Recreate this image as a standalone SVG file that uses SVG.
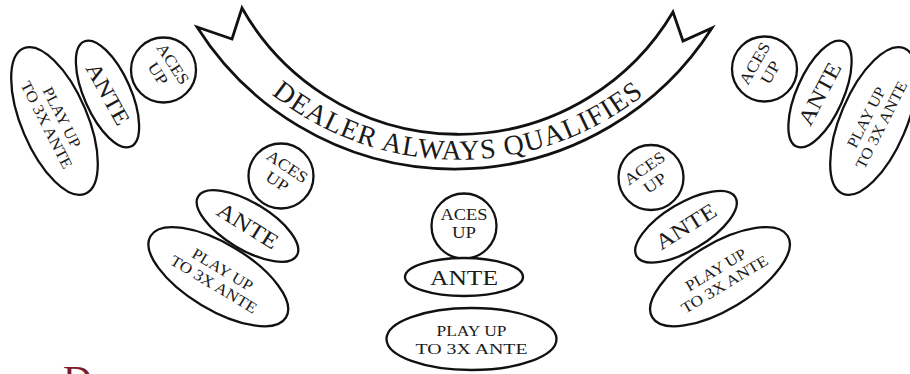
<svg xmlns="http://www.w3.org/2000/svg" width="910" height="374" viewBox="0 0 910 374">
<defs>
<style>
.sh{fill:#fff;stroke:#111;stroke-width:2.3}
.bn{fill:#fff;stroke:#111;stroke-width:2.8;stroke-linejoin:miter}
.t{font-family:"Liberation Serif","DejaVu Serif",serif;fill:#1a1a1a;text-anchor:middle}
.a{font-size:16px}
.n{font-size:22px}
.p{font-size:15.5px}
.b{font-size:28px;letter-spacing:1px}
</style>
<path id="arcText" d="M230,53.6 A298,298 0 0,0 686,53.6"/>
</defs>
<rect x="0" y="0" width="910" height="374" fill="#fff"/>

<g id="banner">
<path class="bn" d="M197,27 L232,39 L242,8 A249,249 0 0,0 673,12 L683,41 L712,28 A305,305 0 0,1 197,27 Z"/>
<text class="t b"><textPath href="#arcText" startOffset="50%">DEALER ALWAYS QUALIFIES</textPath></text>
</g>

<!-- top-left group -->
<g id="tl-aces" transform="translate(163.5,70)">
<circle class="sh" r="32.5"/>
<text class="t a" transform="rotate(57)"><tspan x="0" y="-6" textLength="46" lengthAdjust="spacingAndGlyphs">ACES</tspan><tspan x="0" y="12" textLength="24" lengthAdjust="spacingAndGlyphs">UP</tspan></text>
</g>
<g id="tl-ante" transform="translate(107.5,94)">
<ellipse class="sh" rx="57.5" ry="23.3" transform="rotate(66)"/>
<text class="t n" y="7" transform="rotate(61)" textLength="68" lengthAdjust="spacingAndGlyphs">ANTE</text>
</g>
<g id="tl-play" transform="translate(54.5,121)">
<ellipse class="sh" rx="79" ry="33" transform="rotate(67)"/>
<text class="t p" transform="rotate(63)"><tspan x="0" y="-3" textLength="66" lengthAdjust="spacingAndGlyphs">PLAY UP</tspan><tspan x="0" y="14" textLength="96" lengthAdjust="spacingAndGlyphs">TO 3X ANTE</tspan></text>
</g>

<!-- top-right group -->
<g id="tr-aces" transform="translate(764.5,69)">
<circle class="sh" r="32.5"/>
<text class="t a" transform="rotate(-60)"><tspan x="0" y="-6" textLength="46" lengthAdjust="spacingAndGlyphs">ACES</tspan><tspan x="0" y="12" textLength="24" lengthAdjust="spacingAndGlyphs">UP</tspan></text>
</g>
<g id="tr-ante" transform="translate(820,94)">
<ellipse class="sh" rx="57.5" ry="23.3" transform="rotate(-66)"/>
<text class="t n" y="7" transform="rotate(-62)" textLength="68" lengthAdjust="spacingAndGlyphs">ANTE</text>
</g>
<g id="tr-play" transform="translate(873.5,121)">
<ellipse class="sh" rx="79" ry="33" transform="rotate(-67)"/>
<text class="t p" transform="rotate(-63)"><tspan x="0" y="-3" textLength="66" lengthAdjust="spacingAndGlyphs">PLAY UP</tspan><tspan x="0" y="14" textLength="96" lengthAdjust="spacingAndGlyphs">TO 3X ANTE</tspan></text>
</g>

<!-- middle-left group -->
<g id="ml-aces" transform="translate(281,176)">
<circle class="sh" r="32.5"/>
<text class="t a" transform="rotate(34)"><tspan x="0" y="-6" textLength="46" lengthAdjust="spacingAndGlyphs">ACES</tspan><tspan x="0" y="12" textLength="24" lengthAdjust="spacingAndGlyphs">UP</tspan></text>
</g>
<g id="ml-ante" transform="translate(247.5,226)">
<ellipse class="sh" rx="57.5" ry="23.5" transform="rotate(31)"/>
<text class="t n" y="7" transform="rotate(32)" textLength="68" lengthAdjust="spacingAndGlyphs">ANTE</text>
</g>
<g id="ml-play" transform="translate(218.3,276.7)">
<ellipse class="sh" rx="79" ry="33" transform="rotate(31)"/>
<text class="t p" transform="rotate(31)"><tspan x="0" y="-3" textLength="68" lengthAdjust="spacingAndGlyphs">PLAY UP</tspan><tspan x="0" y="14" textLength="98" lengthAdjust="spacingAndGlyphs">TO 3X ANTE</tspan></text>
</g>

<!-- middle-right group -->
<g id="mr-aces" transform="translate(651,177.5)">
<circle class="sh" r="32.5"/>
<text class="t a" transform="rotate(-35)"><tspan x="0" y="-6" textLength="46" lengthAdjust="spacingAndGlyphs">ACES</tspan><tspan x="0" y="12" textLength="24" lengthAdjust="spacingAndGlyphs">UP</tspan></text>
</g>
<g id="mr-ante" transform="translate(686,226.7)">
<ellipse class="sh" rx="57.5" ry="23.5" transform="rotate(-31)"/>
<text class="t n" y="7" transform="rotate(-32)" textLength="68" lengthAdjust="spacingAndGlyphs">ANTE</text>
</g>
<g id="mr-play" transform="translate(720,276.7)">
<ellipse class="sh" rx="79" ry="33" transform="rotate(-31)"/>
<text class="t p" transform="rotate(-31)"><tspan x="0" y="-3" textLength="68" lengthAdjust="spacingAndGlyphs">PLAY UP</tspan><tspan x="0" y="14" textLength="98" lengthAdjust="spacingAndGlyphs">TO 3X ANTE</tspan></text>
</g>

<!-- center group -->
<g id="c-aces" transform="translate(464,226)">
<circle class="sh" r="32.5"/>
<text class="t a"><tspan x="0" y="-6" textLength="47" lengthAdjust="spacingAndGlyphs">ACES</tspan><tspan x="0" y="12" textLength="24" lengthAdjust="spacingAndGlyphs">UP</tspan></text>
</g>
<g id="c-ante" transform="translate(464,277)">
<ellipse class="sh" rx="59" ry="19"/>
<text class="t n" y="8" textLength="68" lengthAdjust="spacingAndGlyphs">ANTE</text>
</g>
<g id="c-play" transform="translate(471.5,339)">
<ellipse class="sh" rx="85" ry="31"/>
<text class="t p"><tspan x="0" y="-3" textLength="70" lengthAdjust="spacingAndGlyphs">PLAY UP</tspan><tspan x="0" y="15" textLength="112" lengthAdjust="spacingAndGlyphs">TO 3X ANTE</tspan></text>
</g>

<g id="connectors"></g>

<text x="63" y="393" font-family="Liberation Serif, serif" font-size="40" fill="#7a1c2c">D</text>
</svg>
